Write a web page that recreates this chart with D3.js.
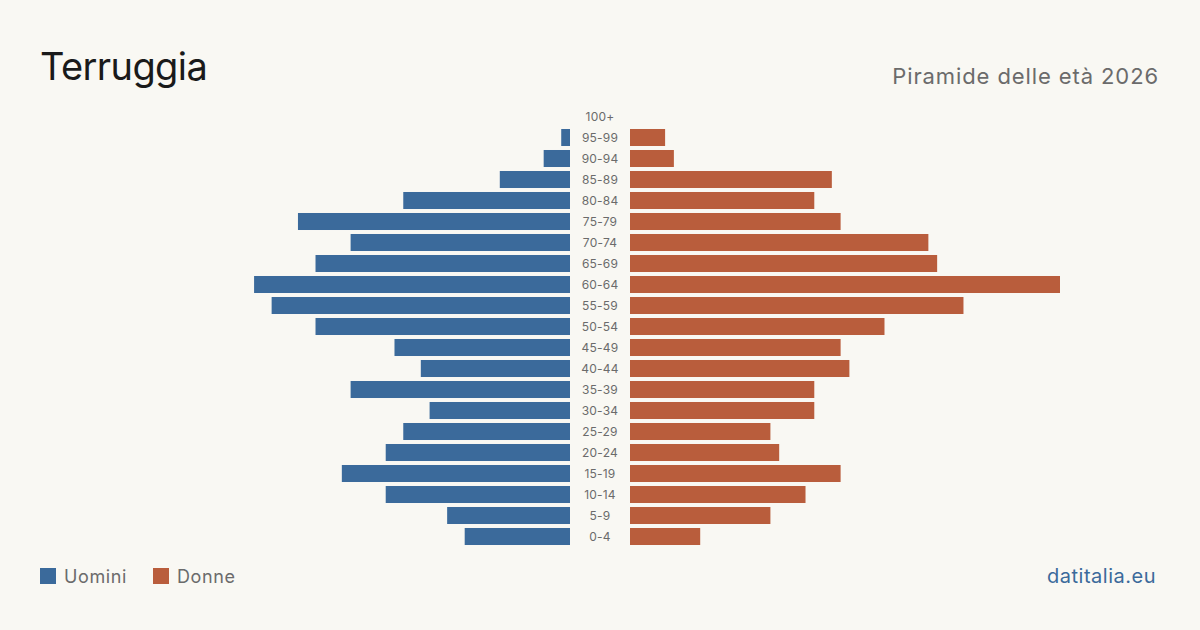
<!DOCTYPE html>
<html>
<head>
<meta charset="utf-8">
<script src="https://cdn.jsdelivr.net/npm/d3@7"></script>
<style>
  body { margin: 0; background: #f9f8f3; }
  svg { display: block; font-family: Inter, "Noto Sans", sans-serif; }
</style>
</head>
<body>
<div id="chart"></div>
<script>
// age classes, top to bottom
var ageGroups = ["100+", "95-99", "90-94", "85-89", "80-84", "75-79", "70-74", "65-69",
  "60-64", "55-59", "50-54", "45-49", "40-44", "35-39", "30-34", "25-29",
  "20-24", "15-19", "10-14", "5-9", "0-4"];
var uomini = [0, 1, 3, 8, 19, 31, 25, 29, 36, 34, 29, 20, 17, 25, 16, 19, 21, 26, 21, 14, 12];
var donne  = [0, 4, 5, 23, 21, 24, 34, 35, 49, 38, 29, 24, 25, 21, 21, 16, 17, 24, 20, 16, 8];
var legendLabels = ["Uomini", "Donne"];

var W = 1200, H = 630,
    center = 600,
    gap = 30,            // half width of the label column
    halfWidth = 430,
    blue = "#3b6a9b",
    orange = "#b95d3c";

var svg = d3.select("#chart").append("svg")
  .attr("width", W)
  .attr("height", H);

svg.append("rect").attr("width", W).attr("height", H).attr("fill", "#f9f8f3");

//Title and subtitle
svg.append("text")
  .attr("x", 40).attr("y", 80)
  .attr("font-size", 38)
  .attr("letter-spacing", -0.6)
  .attr("fill", "#1a1a1a")
  .text("Terruggia");

svg.append("text")
  .attr("x", 1159).attr("y", 84)
  .attr("text-anchor", "end")
  .attr("font-size", 22)
  .attr("letter-spacing", 0.9)
  .attr("fill", "#6b6b6b")
  .text("Piramide delle età 2026");

var maxVal = d3.max(uomini.concat(donne));

var y = d3.scaleBand()
  .domain(ageGroups)
  .range([106, 547])
  .paddingInner(0.19)
  .paddingOuter(0.095);

var xLeft = d3.scaleLinear().domain([0, maxVal]).range([center - gap, center - gap - halfWidth]);
var xRight = d3.scaleLinear().domain([0, maxVal]).range([center + gap, center + gap + halfWidth]);

var rows = ageGroups.map(function(a, i) { return {age: a, m: uomini[i], f: donne[i]}; });

svg.append("g").selectAll("rect")
  .data(rows.filter(function(d) { return d.m > 0; }))
  .join("rect")
    .attr("x", function(d) { return xLeft(d.m); })
    .attr("y", function(d) { return y(d.age); })
    .attr("width", function(d) { return xLeft(0) - xLeft(d.m); })
    .attr("height", y.bandwidth())
    .attr("fill", blue);

svg.append("g").selectAll("rect")
  .data(rows.filter(function(d) { return d.f > 0; }))
  .join("rect")
    .attr("x", xRight(0))
    .attr("y", function(d) { return y(d.age); })
    .attr("width", function(d) { return xRight(d.f) - xRight(0); })
    .attr("height", y.bandwidth())
    .attr("fill", orange);

//Age labels in the middle column
svg.append("g").selectAll("text")
  .data(ageGroups)
  .join("text")
    .attr("x", center)
    .attr("y", function(d) { return y(d) + y.bandwidth() / 2; })
    .attr("dy", "0.35em")
    .attr("text-anchor", "middle")
    .attr("font-size", 12)
    .attr("letter-spacing", 0.2)
    .attr("fill", "#6b6b6b")
    .text(function(d) { return d; });

//Legend
var legend = svg.append("g").selectAll("g")
  .data(legendLabels)
  .join("g")
    .attr("transform", function(d, i) { return "translate(" + (40 + i * 113) + ",568)"; });
legend.append("rect")
  .attr("width", 16).attr("height", 16)
  .attr("fill", function(d, i) { return i === 0 ? blue : orange; });
legend.append("text")
  .attr("x", 24).attr("y", 15)
  .attr("font-size", 18)
  .attr("letter-spacing", 0.6)
  .attr("fill", "#6b6b6b")
  .text(function(d) { return d; });

svg.append("text")
  .attr("x", 1156).attr("y", 583)
  .attr("text-anchor", "end")
  .attr("font-size", 20)
  .attr("letter-spacing", 0.5)
  .attr("fill", blue)
  .text("datitalia.eu");
</script>
</body>
</html>
